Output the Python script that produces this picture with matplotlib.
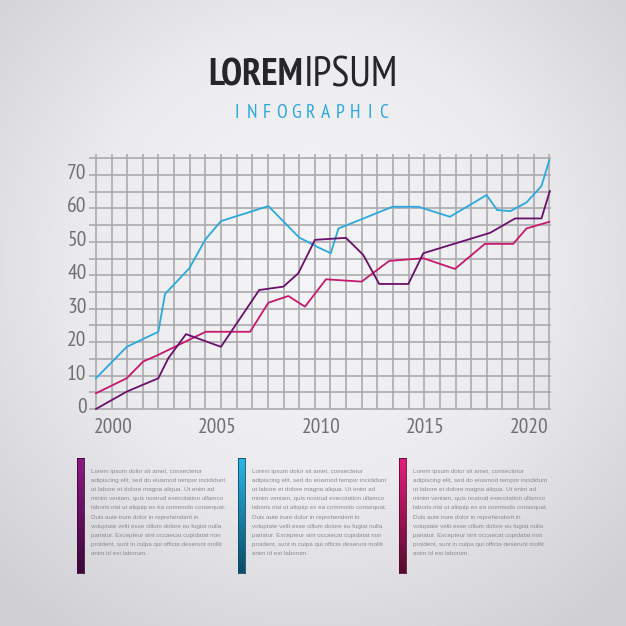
import numpy as np
import matplotlib
matplotlib.use("Agg")
import matplotlib.pyplot as plt
from matplotlib import font_manager
from matplotlib.colors import LinearSegmentedColormap
from matplotlib.transforms import ScaledTranslation

# series (year, value)
blue_years = [1999.18, 2000.66, 2002.18, 2002.5, 2003.67, 2004.45, 2005.19, 2007.47,
              2008.95, 2009.95, 2010.47, 2010.84, 2013.44, 2014.68, 2016.2, 2017.96,
              2018.47, 2019.11, 2019.88, 2020.6, 2020.98]
blue_vals = [9.2, 18.6, 23.1, 34.4, 42.1, 50.8, 56.2, 60.7,
             51.3, 48.1, 46.6, 54.0, 60.5, 60.5, 57.5, 64.0,
             59.5, 59.2, 61.8, 66.7, 74.5]

purple_years = [1999.18, 2000.66, 2002.18, 2002.66, 2003.51, 2005.19, 2007.03, 2008.19,
                2008.91, 2009.71, 2011.2, 2012.03, 2012.8, 2014.2, 2014.92, 2018.13,
                2019.33, 2020.6, 2021.0]
purple_vals = [0, 5.2, 9.2, 15.2, 22.4, 18.6, 35.6, 36.6,
               40.6, 50.6, 51.2, 46.1, 37.4, 37.4, 46.6, 52.7,
               57.0, 57.0, 65.2]

pink_years = [1999.18, 2000.66, 2001.45, 2002.18, 2004.45, 2006.59, 2007.47, 2008.43,
              2009.23, 2010.24, 2011.95, 2013.28, 2014.92, 2016.44, 2017.88, 2019.24,
              2019.88, 2020.98]
pink_vals = [4.7, 9.2, 14.2, 16.2, 23.1, 23.1, 31.8, 33.8,
             30.6, 38.8, 38.1, 44.3, 45.1, 41.9, 49.4, 49.4,
             54.0, 56.0]

x_ticks = [2000, 2005, 2010, 2015, 2020]
y_ticks = [0, 10, 20, 30, 40, 50, 60, 70]

lorem_lines = [
    "Lorem ipsum dolor sit amet, consectetur",
    "adipiscing elit, sed do eiusmod tempor incididunt",
    "ut labore et dolore magna aliqua. Ut enim ad",
    "minim veniam, quis nostrud exercitation ullamco",
    "laboris nisi ut aliquip ex ea commodo consequat.",
    "Duis aute irure dolor in reprehenderit in",
    "voluptate velit esse cillum dolore eu fugiat nulla",
    "pariatur. Excepteur sint occaecat cupidatat non",
    "proident, sunt in culpa qui officia deserunt mollit",
    "anim id est laborum.",
]

BLUE = "#2ba8dc"
PURPLE = "#6a0f6c"
PINK = "#c8186c"
GRID = "#ababaf"
LABEL = "#707072"

W = 626

# pick a condensed face that has a light/regular cut
fonts = font_manager.fontManager.ttflist
narrow_pref = ["PT Sans Narrow", "Roboto Condensed", "Fira Sans Condensed", "Encode Sans Condensed",
               "Archivo Narrow", "Asap Condensed", "Barlow Semi Condensed", "Sofia Sans Condensed",
               "IBM Plex Sans Condensed", "Saira Semi Condensed", "Liberation Sans Narrow",
               "Open Sans Condensed"]


def has_regular(name):
    return any(f.name == name and f.style == "normal" and int(f.weight) <= 400 for f in fonts)


narrow_name = next((n for n in narrow_pref if has_regular(n)), "DejaVu Sans")
narrow = [narrow_name, "DejaVu Sans"]
body = ["Liberation Sans", "DejaVu Sans"]


def fx(x):
    return x / W


def fy(y):
    return 1 - y / W


fig = plt.figure(figsize=(6.26, 6.26), dpi=100)
renderer = fig.canvas.get_renderer()

# radial grey background
bg = fig.add_axes([0, 0, 1, 1], zorder=-10)
yy, xx = np.mgrid[0:1:300j, 0:1:300j]
r = np.sqrt(((xx - 0.5) / 0.72) ** 2 + ((yy - 0.42) / 0.72) ** 2)
bg_cmap = LinearSegmentedColormap.from_list("bg", ["#f6f6f8", "#ececef", "#cfcfd4"])
bg.imshow(r, cmap=bg_cmap, vmin=0, vmax=1.0, extent=[0, 1, 0, 1], aspect="auto")
bg.axis("off")

# chart area in pixels
left_px, right_px, top_px, bot_px = 88, 551, 154, 410.7
ax = fig.add_axes([fx(left_px), fy(bot_px), (right_px - left_px) / W, (bot_px - top_px) / W])
ax.patch.set_alpha(0)
x_lo = 2000 + (left_px - 113) / 20.8
x_hi = 2000 + (right_px - 113) / 20.8
y_lo = -(bot_px - 409) / 3.343
y_hi = (409 - top_px) / 3.343
ax.set_xlim(x_lo, x_hi)
ax.set_ylim(y_lo, y_hi)
for s in ax.spines.values():
    s.set_visible(False)

# grid
gx0, gx1 = 1999.18, 2020.98
ax.vlines(np.linspace(gx0, gx1, 30), 0, y_hi, color=GRID, lw=1.2, zorder=1)
ax.hlines(np.arange(0, 80, 5), x_lo + 0.05, gx1 + 0.08, color=GRID, lw=1.2, zorder=1)

ax.plot(blue_years, blue_vals, color=BLUE, lw=1.3, zorder=3)
ax.plot(pink_years, pink_vals, color=PINK, lw=1.3, zorder=3)
ax.plot(purple_years, purple_vals, color=PURPLE, lw=1.3, zorder=4)

ax.set_xticks(x_ticks)
ax.set_xticklabels([str(t) for t in x_ticks])
ax.set_yticks(y_ticks)
ax.set_yticklabels([str(t) for t in y_ticks])
ax.tick_params(length=0, labelsize=15.5, labelcolor=LABEL)
ax.tick_params(axis="x", pad=5)
ax.tick_params(axis="y", pad=1)
for lbl in ax.get_xticklabels() + ax.get_yticklabels():
    lbl.set_family(narrow)
    lbl.set_fontweight("normal")
for lbl in ax.get_yticklabels():
    lbl.set_transform(lbl.get_transform() + ScaledTranslation(0, 0.035, fig.dpi_scale_trans))

# title
t1 = fig.text(fx(303), fy(76), "LOREM", ha="right", va="center", fontsize=25,
              fontweight="bold", color="#262628", family=narrow)
w1 = t1.get_window_extent(renderer).width
t1.set_fontsize(25 * 95 / w1)
t2 = fig.text(fx(304), fy(76), "IPSUM", ha="left", va="center", fontsize=25,
              fontweight="normal", color="#262628", family=narrow)
w2 = t2.get_window_extent(renderer).width
t2.set_fontsize(min(25 * 114 / w2, t1.get_fontsize() * 1.1))
sub = "INFOGRAPHIC"
for i, ch in enumerate(sub):
    fig.text(fx(237 + i * 14.7), fy(113.5), ch, ha="center", va="center",
             fontsize=14, fontweight="normal", color=BLUE, family=narrow)

# text columns with gradient bars
bar_cols = [("#8c1a86", "#3a0838"), ("#2bb6e6", "#0b4c68"), ("#e3207e", "#560a2e")]
col_x = [77, 238, 399]
grad = np.linspace(0, 1, 100).reshape(-1, 1)
for (c_top, c_bot), bx in zip(bar_cols, col_x):
    bax = fig.add_axes([fx(bx), fy(573), 7 / W, (573 - 458) / W])
    cm = LinearSegmentedColormap.from_list("b", [c_top, c_bot])
    bax.imshow(grad, cmap=cm, aspect="auto", extent=[0, 1, 0, 1], origin="upper")
    bax.set_xticks([])
    bax.set_yticks([])
    for s in bax.spines.values():
        s.set_color(c_bot)
        s.set_linewidth(0.6)
    for i, line in enumerate(lorem_lines):
        fig.text(fx(bx + 14), fy(471 + i * 9.2), line, ha="left", va="center",
                 fontsize=4.5, color="#8c8c90", family=body)

fig.savefig("out.png", dpi=100)
